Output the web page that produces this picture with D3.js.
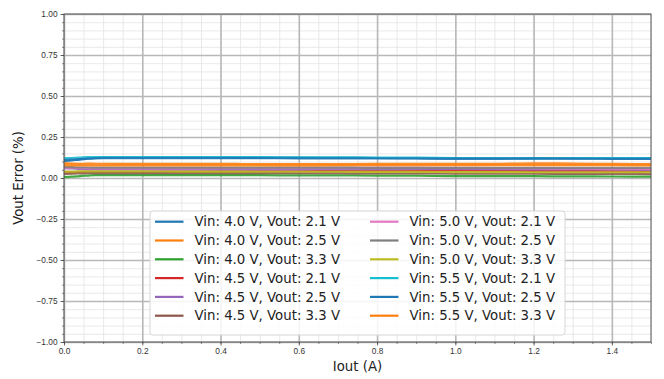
<!DOCTYPE html>
<html>
<head>
<meta charset="utf-8">
<script src="https://cdn.jsdelivr.net/npm/d3@7"></script>
<style>
  body { margin: 0; background: #fff; }
  svg { font-family: "DejaVu Sans", sans-serif; }
</style>
</head>
<body>
<div id="chartCtn"></div>
<script>
// Iout sample points (A)
const iout = [0, 0.02, 0.04, 0.06, 0.08, 0.1, 0.2, 0.3, 0.4, 0.5, 0.6, 0.7, 0.8, 0.9, 1.0, 1.1, 1.2, 1.3, 1.4, 1.5];

const seriesNames = [
  "Vin: 4.0 V, Vout: 2.1 V", "Vin: 4.0 V, Vout: 2.5 V", "Vin: 4.0 V, Vout: 3.3 V",
  "Vin: 4.5 V, Vout: 2.1 V", "Vin: 4.5 V, Vout: 2.5 V", "Vin: 4.5 V, Vout: 3.3 V",
  "Vin: 5.0 V, Vout: 2.1 V", "Vin: 5.0 V, Vout: 2.5 V", "Vin: 5.0 V, Vout: 3.3 V",
  "Vin: 5.5 V, Vout: 2.1 V", "Vin: 5.5 V, Vout: 2.5 V", "Vin: 5.5 V, Vout: 3.3 V"
];

const colors = ["#1f77b4", "#ff7f0e", "#2ca02c", "#d62728", "#9467bd", "#8c564b",
                "#e377c2", "#7f7f7f", "#bcbd22", "#17becf", "#1f77b4", "#ff7f0e"];

// Vout error (%) per series
const v40_21 = [0.103, 0.108, 0.112, 0.118, 0.123, 0.125, 0.125, 0.125, 0.125, 0.124, 0.124, 0.123, 0.122, 0.121, 0.118, 0.118, 0.121, 0.120, 0.120, 0.120];
const v40_25 = [0.090, 0.088, 0.086, 0.088, 0.087, 0.087, 0.086, 0.086, 0.086, 0.085, 0.085, 0.085, 0.086, 0.087, 0.086, 0.087, 0.090, 0.088, 0.086, 0.084];
const v40_33 = [0.005, 0.008, 0.012, 0.015, 0.018, 0.018, 0.018, 0.018, 0.017, 0.017, 0.016, 0.016, 0.015, 0.014, 0.012, 0.012, 0.011, 0.010, 0.009, 0.008];
const v45_21 = [0.035, 0.036, 0.037, 0.038, 0.038, 0.038, 0.038, 0.039, 0.040, 0.040, 0.041, 0.042, 0.043, 0.044, 0.045, 0.044, 0.043, 0.042, 0.041, 0.040];
const v45_25 = [0.060, 0.058, 0.055, 0.053, 0.052, 0.052, 0.052, 0.052, 0.052, 0.053, 0.053, 0.054, 0.054, 0.055, 0.055, 0.054, 0.053, 0.053, 0.052, 0.050];
const v45_33 = [0.025, 0.027, 0.028, 0.029, 0.030, 0.030, 0.030, 0.030, 0.030, 0.030, 0.029, 0.029, 0.028, 0.028, 0.027, 0.026, 0.026, 0.025, 0.025, 0.024];
const v50_21 = [0.065, 0.063, 0.062, 0.061, 0.060, 0.060, 0.060, 0.060, 0.061, 0.061, 0.062, 0.063, 0.063, 0.063, 0.062, 0.061, 0.060, 0.058, 0.057, 0.056];
const v50_25 = [0.068, 0.066, 0.064, 0.064, 0.063, 0.063, 0.063, 0.063, 0.063, 0.063, 0.063, 0.063, 0.062, 0.062, 0.062, 0.062, 0.062, 0.062, 0.062, 0.062];
const v50_33 = [0.038, 0.039, 0.040, 0.040, 0.040, 0.040, 0.040, 0.039, 0.039, 0.038, 0.038, 0.038, 0.037, 0.037, 0.036, 0.036, 0.035, 0.035, 0.035, 0.035];
const v55_21 = [0.120, 0.122, 0.124, 0.127, 0.128, 0.128, 0.128, 0.127, 0.127, 0.127, 0.126, 0.126, 0.125, 0.124, 0.122, 0.121, 0.120, 0.121, 0.121, 0.121];
const v55_25 = [0.110, 0.112, 0.115, 0.118, 0.120, 0.121, 0.121, 0.121, 0.121, 0.121, 0.120, 0.120, 0.119, 0.119, 0.118, 0.118, 0.118, 0.118, 0.117, 0.117];
const v55_33 = [0.078, 0.077, 0.077, 0.077, 0.077, 0.077, 0.077, 0.077, 0.077, 0.077, 0.077, 0.078, 0.078, 0.079, 0.079, 0.079, 0.079, 0.078, 0.078, 0.077];

const seriesValues = [v40_21, v40_25, v40_33, v45_21, v45_25, v45_33, v50_21, v50_25, v50_33, v55_21, v55_25, v55_33];

const xTicks = [0.0, 0.2, 0.4, 0.6, 0.8, 1.0, 1.2, 1.4];
const yTicks = [-1.0, -0.75, -0.5, -0.25, 0.0, 0.25, 0.5, 0.75, 1.0];

const width = 664, height = 379;
const margin = { left: 64, right: 13, top: 14, bottom: 37 };

const xScale = d3.scaleLinear().domain([0, 1.5]).range([margin.left, width - margin.right]);
const yScale = d3.scaleLinear().domain([-1, 1]).range([height - margin.bottom, margin.top]);

const svg = d3.select("#chartCtn").append("svg")
  .attr("width", width).attr("height", height);

// minor grid
const xMinor = d3.range(0, 1.5001, 0.05);
const yMinor = d3.range(-1, 1.0001, 0.05);
svg.append("g")
  .attr("transform", `translate(0, ${ height - margin.bottom })`)
  .call(d3.axisBottom(xScale).tickValues(xMinor).tickSize(-(height - margin.top - margin.bottom)).tickFormat(""))
  .call(g => g.select(".domain").remove())
  .call(g => g.selectAll("line").attr("stroke", "#e3e3e3").attr("stroke-width", 0.8));
svg.append("g")
  .attr("transform", `translate(${ margin.left }, 0)`)
  .call(d3.axisLeft(yScale).tickValues(yMinor).tickSize(-(width - margin.left - margin.right)).tickFormat(""))
  .call(g => g.select(".domain").remove())
  .call(g => g.selectAll("line").attr("stroke", "#e3e3e3").attr("stroke-width", 0.8));

// major grid
svg.append("g")
  .attr("transform", `translate(0, ${ height - margin.bottom })`)
  .call(d3.axisBottom(xScale).tickValues(xTicks).tickSize(-(height - margin.top - margin.bottom)).tickFormat(""))
  .call(g => g.select(".domain").remove())
  .call(g => g.selectAll("line").attr("stroke", "#b8b8b8").attr("stroke-width", 1.6));
svg.append("g")
  .attr("transform", `translate(${ margin.left }, 0)`)
  .call(d3.axisLeft(yScale).tickValues(yTicks).tickSize(-(width - margin.left - margin.right)).tickFormat(""))
  .call(g => g.select(".domain").remove())
  .call(g => g.selectAll("line").attr("stroke", "#b8b8b8").attr("stroke-width", 1.6));

// series lines
const line = d3.line()
  .x((d, i) => xScale(iout[i]))
  .y(d => yScale(d))
  .curve(d3.curveMonotoneX);

svg.append("g").selectAll("path")
  .data(seriesValues)
  .enter()
  .append("path")
  .attr("d", d => line(d))
  .attr("fill", "none")
  .attr("stroke", (d, i) => colors[i])
  .attr("stroke-width", 2.2)
  .attr("stroke-linejoin", "round")
  .attr("opacity", 0.9);

// frame
svg.append("rect")
  .attr("x", margin.left).attr("y", margin.top)
  .attr("width", width - margin.left - margin.right)
  .attr("height", height - margin.top - margin.bottom)
  .attr("fill", "none").attr("stroke", "#555").attr("stroke-width", 1);

// axes with ticks
const tickColor = "#444";
svg.append("g")
  .attr("transform", `translate(0, ${ height - margin.bottom })`)
  .call(d3.axisBottom(xScale).tickValues(xMinor).tickSize(2).tickFormat(""))
  .call(g => g.select(".domain").remove())
  .call(g => g.selectAll("line").attr("stroke", tickColor).attr("stroke-width", 0.6));
svg.append("g")
  .attr("transform", `translate(${ margin.left }, 0)`)
  .call(d3.axisLeft(yScale).tickValues(yMinor).tickSize(2).tickFormat(""))
  .call(g => g.select(".domain").remove())
  .call(g => g.selectAll("line").attr("stroke", tickColor).attr("stroke-width", 0.6));

svg.append("g")
  .attr("transform", `translate(0, ${ height - margin.bottom })`)
  .call(d3.axisBottom(xScale).tickValues(xTicks).tickSize(3.5).tickPadding(3).tickFormat(d3.format(".1f")))
  .call(g => g.select(".domain").remove())
  .call(g => g.selectAll("line").attr("stroke", tickColor).attr("stroke-width", 0.8))
  .call(g => g.selectAll("text").attr("fill", "#333").style("font-size", "8.3px"));
svg.append("g")
  .attr("transform", `translate(${ margin.left }, 0)`)
  .call(d3.axisLeft(yScale).tickValues(yTicks).tickSize(3.5).tickPadding(3).tickFormat(d => d3.format(".2f")(d).replace("-", "\u2212")))
  .call(g => g.select(".domain").remove())
  .call(g => g.selectAll("line").attr("stroke", tickColor).attr("stroke-width", 0.8))
  .call(g => g.selectAll("text").attr("fill", "#333").style("font-size", "8.3px"));

// axis labels
svg.append("text")
  .attr("x", (margin.left + width - margin.right) / 2)
  .attr("y", 371)
  .attr("text-anchor", "middle")
  .attr("fill", "#222")
  .style("font-size", "13.3px")
  .text("Iout (A)");

svg.append("text")
  .attr("transform", "rotate(-90)")
  .attr("x", -yScale(0))
  .attr("y", 23)
  .attr("text-anchor", "middle")
  .attr("fill", "#222")
  .style("font-size", "13.3px")
  .text("Vout Error (%)");

// legend
const legend = svg.append("g").attr("transform", "translate(150, 211)");
legend.append("rect")
  .attr("width", 415).attr("height", 124)
  .attr("rx", 3)
  .attr("fill", "#fff").attr("fill-opacity", 0.85)
  .attr("stroke", "#d6d6d6").attr("stroke-width", 1);

const items = legend.selectAll("g.item")
  .data(seriesNames)
  .enter()
  .append("g")
  .attr("class", "item")
  .attr("transform", (d, i) => `translate(${ i < 6 ? 5 : 220 }, ${ 10.7 + (i % 6) * 18.8 })`);

items.append("line")
  .attr("x1", 0).attr("x2", 28.5)
  .attr("stroke", (d, i) => colors[i])
  .attr("stroke-width", 2.2);

items.append("text")
  .attr("x", 39.5)
  .attr("dy", "0.36em")
  .attr("fill", "#222")
  .style("font-size", "13.3px")
  .text(d => d);
</script>
</body>
</html>
